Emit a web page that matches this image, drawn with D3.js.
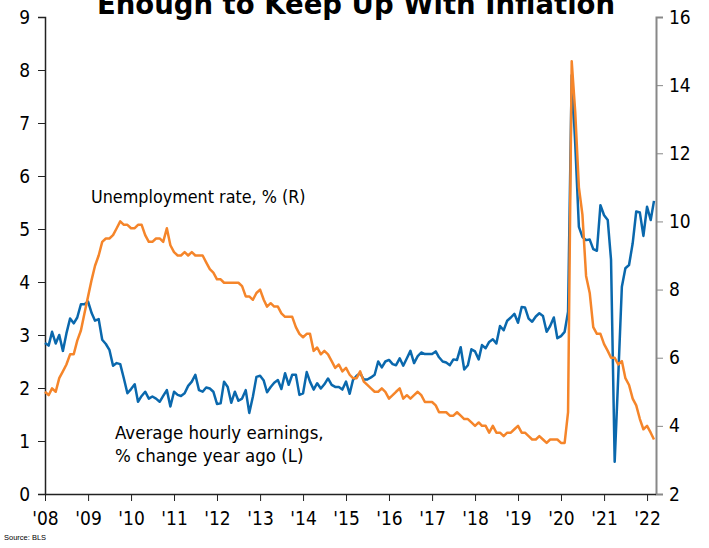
<!DOCTYPE html>
<html>
<head>
<meta charset="utf-8">
<script src="https://cdn.jsdelivr.net/npm/d3@7"></script>
<style>
  html, body { margin: 0; padding: 0; background: #fff; }
  svg { display: block; }
</style>
</head>
<body>
<svg id="chart" width="709" height="548"></svg>
<script>
// ---- DATA ----
const title = "Enough to Keep Up With Inflation";
const startMonth = new Date(2008, 0, 1);
const endMonth = new Date(2022, 2, 1);

// Average hourly earnings, % change year ago (left axis), monthly Jan 2008 - Mar 2022
const earnings = [
  2.85, 2.80, 3.06, 2.84, 3.00, 2.70, 3.03, 3.31, 3.22, 3.33, 3.58, 3.58,
  3.63, 3.41, 3.27, 3.30, 2.91, 2.83, 2.72, 2.42, 2.47, 2.45, 2.18, 1.90,
  1.98, 2.07, 1.74, 1.85, 1.93, 1.80, 1.84, 1.80, 1.74, 1.85, 1.96, 1.65,
  1.93, 1.87, 1.85, 1.90, 2.04, 2.12, 2.25, 1.96, 1.93, 2.01, 1.99, 1.93,
  1.70, 1.71, 2.12, 2.02, 1.72, 1.93, 1.76, 1.80, 1.96, 1.53, 1.84, 2.21,
  2.23, 2.14, 1.92, 2.02, 2.10, 2.15, 1.98, 2.28, 2.06, 2.25, 2.25, 1.87,
  1.90, 2.30, 2.12, 1.97, 2.09, 1.99, 2.07, 2.18, 2.06, 2.02, 2.02, 1.97,
  2.12, 1.89, 2.15, 2.23, 2.28, 2.16, 2.16, 2.20, 2.25, 2.50, 2.39, 2.50,
  2.53, 2.45, 2.43, 2.56, 2.42, 2.56, 2.70, 2.47, 2.60, 2.67, 2.64, 2.64,
  2.64, 2.69, 2.58, 2.50, 2.48, 2.43, 2.54, 2.53, 2.77, 2.35, 2.43, 2.73,
  2.69, 2.54, 2.81, 2.75, 2.87, 2.92, 2.84, 3.17, 3.09, 3.27, 3.33, 3.40,
  3.23, 3.53, 3.52, 3.31, 3.25, 3.35, 3.41, 3.36, 3.06, 3.17, 3.33, 2.94,
  2.98, 3.06, 3.44, 7.90, 6.60, 5.04, 4.85, 4.79, 4.80, 4.62, 4.59, 5.45,
  5.26, 5.17, 4.42, 0.61, 2.20, 3.91, 4.26, 4.32, 4.73, 5.33, 5.31, 4.87,
  5.42, 5.17, 5.53
];

// Unemployment rate, % (right axis)
const unemployment = [
  5.0, 4.9, 5.1, 5.0, 5.4, 5.6, 5.8, 6.1, 6.1, 6.5, 6.8, 7.3,
  7.8, 8.3, 8.7, 9.0, 9.4, 9.5, 9.5, 9.6, 9.8, 10.0, 9.9, 9.9,
  9.8, 9.8, 9.9, 9.9, 9.6, 9.4, 9.4, 9.5, 9.5, 9.4, 9.8, 9.3,
  9.1, 9.0, 9.0, 9.1, 9.0, 9.1, 9.0, 9.0, 9.0, 8.8, 8.6, 8.5,
  8.3, 8.3, 8.2, 8.2, 8.2, 8.2, 8.2, 8.1, 7.8, 7.8, 7.7, 7.9,
  8.0, 7.7, 7.5, 7.6, 7.5, 7.5, 7.3, 7.2, 7.2, 7.2, 6.9, 6.7,
  6.6, 6.7, 6.7, 6.2, 6.3, 6.1, 6.2, 6.1, 5.9, 5.7, 5.8, 5.6,
  5.7, 5.5, 5.4, 5.4, 5.6, 5.3, 5.2, 5.1, 5.0, 5.0, 5.1, 5.0,
  4.8, 4.9, 5.0, 5.1, 4.8, 4.9, 4.8, 4.9, 5.0, 4.9, 4.7, 4.7,
  4.7, 4.6, 4.4, 4.4, 4.4, 4.3, 4.3, 4.4, 4.3, 4.2, 4.2, 4.1,
  4.0, 4.1, 4.0, 4.0, 3.8, 4.0, 3.8, 3.8, 3.7, 3.8, 3.8, 3.9,
  4.0, 3.8, 3.8, 3.7, 3.6, 3.6, 3.7, 3.6, 3.5, 3.6, 3.6, 3.6,
  3.5, 3.5, 4.4, 14.7, 13.2, 11.0, 10.2, 8.4, 7.9, 6.9, 6.7, 6.7,
  6.4, 6.2, 6.0, 6.0, 5.8, 5.9, 5.4, 5.2, 4.8, 4.6, 4.2, 3.9,
  4.0, 3.8, 3.6
];

const leftTicks = [0, 1, 2, 3, 4, 5, 6, 7, 8, 9];
const rightTicks = [2, 4, 6, 8, 10, 12, 14, 16];
const yearTicks = ["'08","'09","'10","'11","'12","'13","'14","'15","'16","'17","'18","'19","'20","'21","'22"];
const unemploymentLabel = ["Unemployment rate, % (R)"];
const earningsLabel = ["Average hourly earnings,", "% change year ago (L)"];
const sourceText = "Source: BLS";

// ---- CHART ----
const months = d3.timeMonth.range(startMonth, d3.timeMonth.offset(endMonth, 1));
const svg = d3.select("#chart");
const plotLeft = 45, plotRight = 656, plotTop = 17, plotBottom = 494;
const font = "'DejaVu Sans Condensed', 'DejaVu Sans', sans-serif";

const x = d3.scaleTime().domain([startMonth, endMonth]).range([plotLeft, plotRight - 2]);
const yL = d3.scaleLinear().domain([0, 9]).range([plotBottom, plotTop]);
const yR = d3.scaleLinear().domain([2, 16]).range([plotBottom, plotTop]);

// title (partly above the top edge, as in the reference)
svg.append("text")
  .attr("x", 356).attr("y", 14)
  .attr("text-anchor", "middle")
  .attr("font-family", "'DejaVu Sans', sans-serif")
  .attr("font-weight", "bold")
  .attr("font-size", 27.5)
  .attr("fill", "#000")
  .text(title);

// left axis
const gL = svg.append("g").attr("transform", `translate(${plotLeft},0)`)
  .call(d3.axisLeft(yL).tickValues(leftTicks).tickSize(7).tickPadding(8).tickFormat(d3.format("d")));
gL.select(".domain").attr("stroke", "#222").attr("stroke-width", 1.5);
gL.selectAll(".tick line").attr("stroke", "#222").attr("stroke-width", 1);
gL.selectAll(".tick text").attr("font-family", font).attr("font-size", 19).attr("fill", "#000");

// right axis
const gR = svg.append("g").attr("transform", `translate(${plotRight},0)`)
  .call(d3.axisRight(yR).tickValues(rightTicks).tickSize(7).tickPadding(6).tickFormat(d3.format("d")));
gR.select(".domain").attr("stroke", "#888").attr("stroke-width", 2);
gR.selectAll(".tick line").attr("stroke", "#888").attr("stroke-width", 1);
gR.selectAll(".tick text").attr("font-family", font).attr("font-size", 19).attr("fill", "#000");

// bottom axis
const yearDates = yearTicks.map((t, i) => new Date(2008 + i, 0, 1));
const gB = svg.append("g").attr("transform", `translate(0,${plotBottom})`)
  .call(d3.axisBottom(x).tickValues(yearDates).tickSize(7).tickPadding(11)
    .tickFormat((d, i) => yearTicks[i]));
gB.select(".domain").attr("stroke", "#222").attr("stroke-width", 1.5)
  .attr("d", `M${plotLeft},0.5H${plotRight}`);
gB.selectAll(".tick line").attr("stroke", "#222");
gB.selectAll(".tick text").attr("font-family", font).attr("font-size", 19).attr("fill", "#000");

// lines
const lineL = d3.line().x((d, i) => x(months[i])).y(d => yL(d));
const lineR = d3.line().x((d, i) => x(months[i])).y(d => yR(d));

svg.append("path").datum(earnings)
  .attr("fill", "none").attr("stroke", "#0a68ad").attr("stroke-width", 2.5)
  .attr("stroke-linejoin", "round").attr("d", lineL);

svg.append("path").datum(unemployment)
  .attr("fill", "none").attr("stroke", "#f5852a").attr("stroke-width", 2.5)
  .attr("stroke-linejoin", "round").attr("d", lineR);

// series labels
svg.append("text").attr("x", 91).attr("y", 203)
  .attr("font-family", font).attr("font-size", 17.8).attr("fill", "#000")
  .text(unemploymentLabel[0]);
earningsLabel.forEach((t, i) => {
  svg.append("text").attr("x", 115).attr("y", 439 + i * 23)
    .attr("font-family", font).attr("font-size", 18.5).attr("fill", "#000")
    .text(t);
});

// source
svg.append("text").attr("x", 4).attr("y", 540)
  .attr("font-family", "'Liberation Sans', Arial, sans-serif").attr("font-size", 7.5).attr("fill", "#000")
  .text(sourceText);
</script>
</body>
</html>
